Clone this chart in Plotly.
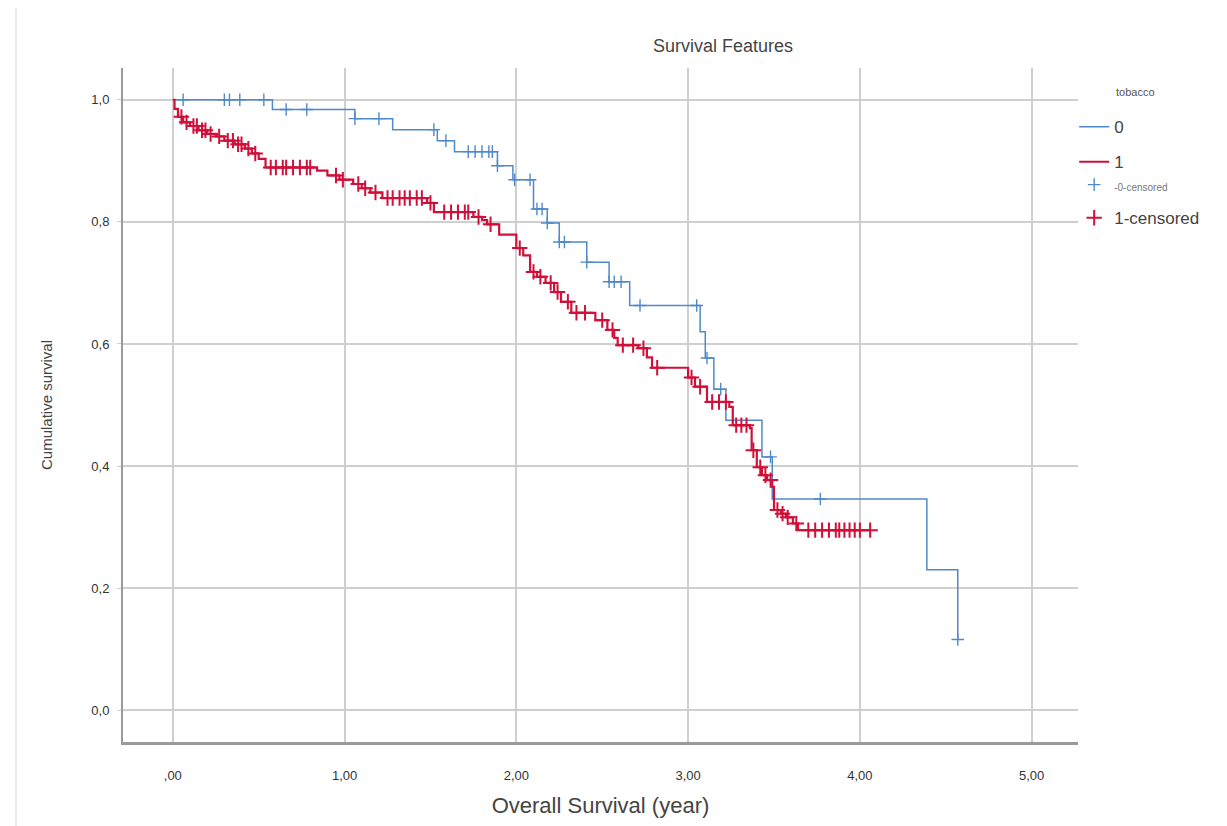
import numpy as np
import plotly.graph_objects as go

# ---- data ----
x_ticks = [0, 1, 2, 3, 4, 5]
x_tick_labels = [",00", "1,00", "2,00", "3,00", "4,00", "5,00"]
y_ticks = [0.0, 0.2, 0.4, 0.6, 0.8, 1.0]
y_tick_labels = ["0,0", "0,2", "0,4", "0,6", "0,8", "1,0"]

# group 0 (tobacco = 0): step times and survival after each step
g0_time = [0.0, 0.58, 1.06, 1.28, 1.54, 1.64, 1.89, 1.98, 2.10, 2.18, 2.25, 2.41,
           2.54, 2.66, 3.07, 3.10, 3.15, 3.22, 3.43, 3.49, 4.39, 4.57]
g0_surv = [1.0, 0.984, 0.969, 0.951, 0.933, 0.915, 0.892, 0.869, 0.821, 0.798, 0.767, 0.734,
           0.702, 0.663, 0.620, 0.577, 0.526, 0.475, 0.415, 0.346, 0.230, 0.116]
g0_cens = [0.06, 0.30, 0.33, 0.39, 0.53, 0.66, 0.78, 1.06, 1.20, 1.52, 1.59, 1.72, 1.76,
           1.80, 1.84, 1.86, 1.89, 1.99, 2.08, 2.12, 2.15, 2.18, 2.25, 2.28, 2.41, 2.54,
           2.57, 2.61, 2.72, 3.05, 3.11, 3.19, 3.48, 3.77, 4.57]

# group 1 (tobacco = 1)
g1_time = [0.0, 0.01, 0.03, 0.06, 0.10, 0.15, 0.20, 0.25, 0.30, 0.36, 0.42, 0.46, 0.50,
           0.54, 0.84, 0.90, 0.97, 1.05, 1.10, 1.15, 1.22, 1.48, 1.52, 1.75, 1.80, 1.83,
           1.90, 2.00, 2.04, 2.08, 2.12, 2.17, 2.22, 2.26, 2.32, 2.46, 2.53, 2.57, 2.59,
           2.71, 2.76, 2.79, 3.00, 3.04, 3.11, 3.24, 3.26, 3.36, 3.37, 3.40, 3.43, 3.46,
           3.49, 3.50, 3.54, 3.57, 3.61, 3.64]
g1_surv = [1.0, 0.985, 0.972, 0.963, 0.957, 0.950, 0.944, 0.940, 0.933, 0.927, 0.920, 0.912,
           0.903, 0.889, 0.884, 0.876, 0.869, 0.862, 0.855, 0.848, 0.839, 0.831, 0.816,
           0.808, 0.803, 0.796, 0.779, 0.757, 0.745, 0.718, 0.710, 0.700, 0.685, 0.669,
           0.651, 0.639, 0.623, 0.610, 0.598, 0.593, 0.578, 0.561, 0.545, 0.530, 0.505,
           0.497, 0.467, 0.462, 0.426, 0.398, 0.385, 0.377, 0.366, 0.328, 0.322, 0.316,
           0.306, 0.295]
g1_cens = [0.05, 0.08, 0.12, 0.14, 0.17, 0.19, 0.22, 0.27, 0.32, 0.35, 0.38, 0.40, 0.44,
           0.48, 0.57, 0.60, 0.64, 0.66, 0.70, 0.74, 0.78, 0.80, 0.95, 0.99, 1.08, 1.12,
           1.18, 1.25, 1.28, 1.32, 1.35, 1.38, 1.42, 1.45, 1.50, 1.58, 1.62, 1.66, 1.70,
           1.72, 1.78, 1.85, 2.02, 2.10, 2.14, 2.20, 2.24, 2.30, 2.35, 2.40, 2.50, 2.56,
           2.62, 2.68, 2.74, 2.82, 3.02, 3.07, 3.14, 3.18, 3.22, 3.28, 3.31, 3.34, 3.38,
           3.42, 3.45, 3.48, 3.52, 3.55, 3.58, 3.63, 3.70, 3.74, 3.78, 3.82, 3.86, 3.88,
           3.91, 3.94, 3.97, 4.00, 4.06]

BLUE = "#5089c9"
RED = "#d0103a"


def km_line(times, surv, cens):
    end = max(times[-1], max(cens))
    return list(times) + [end], list(surv) + [surv[-1]]


def surv_at(times, surv, pts):
    idx = np.searchsorted(np.array(times), np.array(pts), side="right") - 1
    return [surv[i] for i in idx]


fig = go.Figure()

x0, y0 = km_line(g0_time, g0_surv, g0_cens)
x1, y1 = km_line(g1_time, g1_surv, g1_cens)

fig.add_trace(go.Scatter(x=x0, y=y0, mode="lines", line=dict(color=BLUE, width=1.5, shape="hv"),
                         name="0", legendgroup="a", legend="legend"))
fig.add_trace(go.Scatter(x=x1, y=y1, mode="lines", line=dict(color=RED, width=2.2, shape="hv"),
                         name="1", legendgroup="b", legend="legend"))
fig.add_trace(go.Scatter(x=g0_cens, y=surv_at(g0_time, g0_surv, g0_cens), mode="markers",
                         marker=dict(symbol="cross-thin", size=9, line=dict(color=BLUE, width=1.4)),
                         name='<span style="font-size:10px;color:#777">-0-censored</span>',
                         legendgroup="c", legend="legend2"))
fig.add_trace(go.Scatter(x=g1_cens, y=surv_at(g1_time, g1_surv, g1_cens), mode="markers",
                         marker=dict(symbol="cross-thin", size=11, line=dict(color=RED, width=2)),
                         name="1-censored", legendgroup="d", legend="legend2"))

FONT = "Liberation Sans Narrow, Liberation Sans, Arial, sans-serif"

fig.update_layout(
    width=1227, height=826,
    margin=dict(l=115, r=157, t=60, b=92),
    paper_bgcolor="white", plot_bgcolor="white",
    font=dict(family=FONT, color="#444", size=13),
    showlegend=True,
    legend=dict(x=0.996, xanchor="left", y=0.939, yanchor="top",
                font=dict(size=17, color="#444"), itemwidth=30,
                bgcolor="rgba(0,0,0,0)", tracegroupgap=10),
    legend2=dict(x=0.996, xanchor="left", y=0.853, yanchor="top",
                 font=dict(size=17, color="#444"), itemwidth=30,
                 bgcolor="rgba(0,0,0,0)", tracegroupgap=8),
    xaxis=dict(range=[-0.29, 5.27], tickvals=x_ticks, ticktext=x_tick_labels,
               showgrid=True, gridcolor="#cfcfcf", gridwidth=1.5,
               showline=True, linecolor="#9a9a9a", linewidth=3,
               zeroline=False, ticks="", tickfont=dict(size=13, color="#333"),
               ticklabelstandoff=19, automargin=False,
               title=dict(text="Overall Survival (year)", font=dict(size=22, color="#444"),
                          standoff=17)),
    yaxis=dict(range=[-0.052, 1.052], tickvals=y_ticks, ticktext=y_tick_labels,
               showgrid=True, gridcolor="#cfcfcf", gridwidth=1.5,
               showline=True, linecolor="#9a9a9a", linewidth=2,
               zeroline=False, ticks="outside", ticklen=4, tickcolor="#cfcfcf",
               tickfont=dict(size=13, color="#333"), ticklabelstandoff=5, automargin=False,
               title=dict(text="Cumulative survival", font=dict(size=15, color="#444"),
                          standoff=35)),
    annotations=[dict(text="Survival Features", xref="paper", yref="paper",
                      x=0.628, y=1.0, yshift=34, showarrow=False,
                      font=dict(size=18, color="#444")),
                 dict(text="tobacco", xref="paper", yref="paper",
                      x=1.06, y=0.977, showarrow=False, xanchor="center",
                      font=dict(size=11, color="#555"))],
    shapes=[dict(type="line", xref="paper", yref="paper", x0=-0.112, x1=-0.112,
                 y0=-0.14, y1=1.1, line=dict(color="#e4e4e4", width=1.5))],
)

fig.write_html("out.html")
